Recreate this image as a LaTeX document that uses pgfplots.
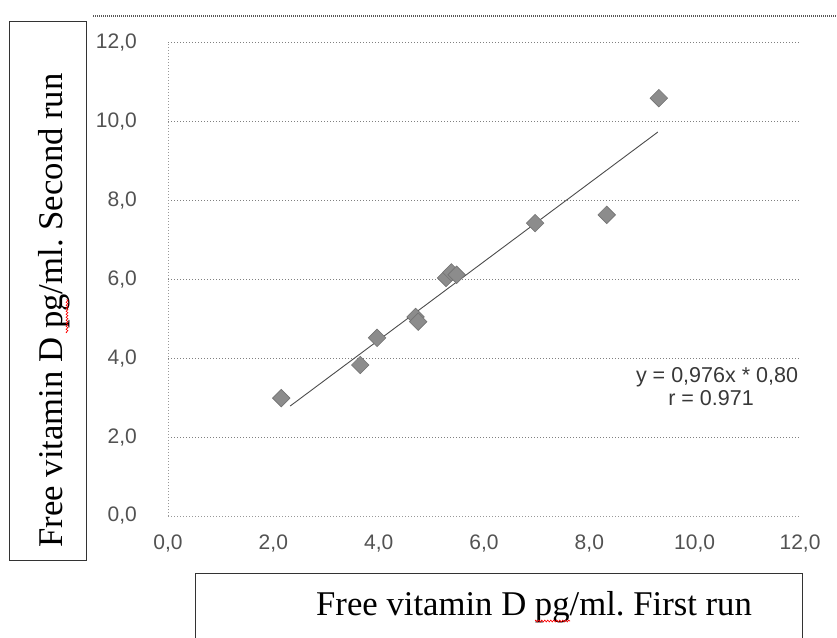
\documentclass[border=0pt]{standalone}
\usepackage{pgfplots}
\pgfplotsset{compat=1.18}
\usepackage{fontspec}
\setmainfont{Liberation Serif}
\newfontfamily\arial{Liberation Sans}
\usetikzlibrary{decorations.pathmorphing}
\frenchspacing
\begin{document}
\frenchspacing
\begin{tikzpicture}
\path[use as bounding box] (0,0) rectangle (837pt,637pt);
\begin{axis}[
  at={(168pt,121pt)}, anchor=south west,
  scale only axis, width=632pt, height=473pt,
  xmin=0,xmax=12,ymin=0,ymax=12,
  xtick={0,2,4,6,8,10,12}, ytick={0,2,4,6,8,10,12},
  xticklabels={{0,0},{2,0},{4,0},{6,0},{8,0},{10,0},{12,0}},
  yticklabels={{0,0},{2,0},{4,0},{6,0},{8,0},{10,0},{12,0}},
  major tick length=0pt,
  tick style={draw=none},
  ymajorgrids,
  grid style={black!50, line width=1pt, dash pattern=on 1pt off 2pt},
  axis x line*=bottom, axis y line*=left,
  axis line style={black!40, line width=1pt, dash pattern=on 1pt off 2pt, -},
  xticklabel style={font=\arial\fontsize{21}{24}\selectfont, text=black!68, anchor=north, inner sep=0pt, yshift=-19pt},
  yticklabel style={font=\arial\fontsize{21}{24}\selectfont, text=black!68, anchor=east, inner sep=0pt, xshift=-31pt},
]
\addplot[black!70, line width=0.9pt] coordinates {(2.32,2.79) (9.30,9.74)};
\addplot[only marks, mark=square*, mark size=6.2pt,
  mark options={rotate=45, fill=black!45, draw=black!55, line width=0.6pt}]
  coordinates {
  (2.15,2.99) (3.65,3.83) (3.97,4.52) (4.70,5.05) (4.75,4.93)
  (5.28,6.04) (5.38,6.18) (5.48,6.12) (6.97,7.43) (8.33,7.64) (9.32,10.60)
  };
\end{axis}
% equation
\node[anchor=base, inner sep=0pt, text=black!78, font=\arial\fontsize{21.5}{24}\selectfont] at (717pt,254pt) {y = 0,976x * 0,80};
\node[anchor=base, inner sep=0pt, text=black!78, font=\arial\fontsize{21.5}{24}\selectfont] at (711pt,231pt) {r = 0.971};
% top frame line
\draw[black!65, line width=1.5pt, dash pattern=on 1pt off 1pt] (93pt,621pt) -- (837pt,621pt);
% y label box
\draw[black!80, line width=1pt] (9pt,615pt) rectangle (86pt,77pt);
\node[rotate=90, anchor=base, inner sep=0pt, font=\fontsize{34.7}{40}\selectfont] at (62pt,326.5pt) {\frenchspacing Free vitamin D pg/ml. Second run};
\draw[red, line width=0.6pt, decorate, decoration={zigzag, segment length=3pt, amplitude=1pt}] (67pt,304pt) -- (67pt,338pt);
% x label box
\draw[black!80, line width=1pt] (195pt,64pt) rectangle (802pt,-20pt);
\node[anchor=base west, inner sep=0pt, font=\fontsize{34.7}{40}\selectfont] at (316pt,22pt) {\frenchspacing Free vitamin D pg/ml. First run};
\draw[red, line width=0.6pt, decorate, decoration={zigzag, segment length=3pt, amplitude=1pt}] (535pt,16pt) -- (570pt,16pt);
\end{tikzpicture}
\end{document}
